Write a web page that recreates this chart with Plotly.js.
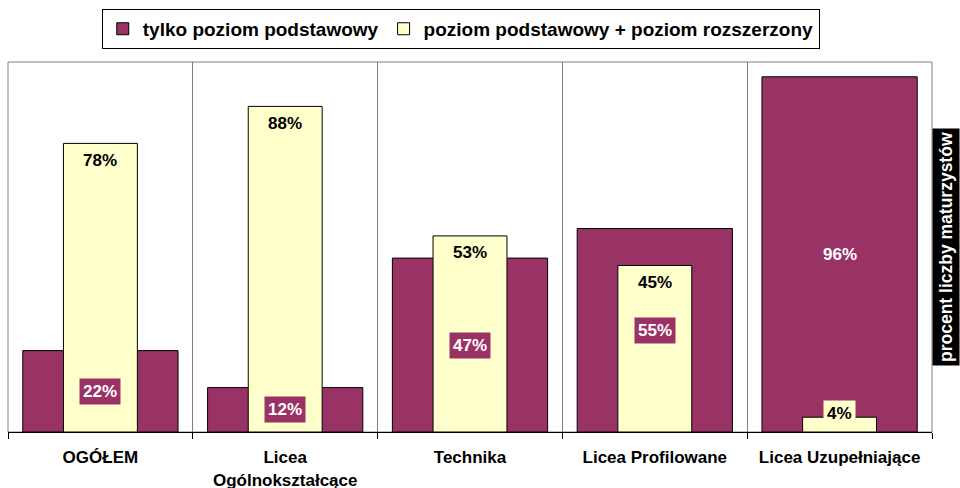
<!DOCTYPE html>
<html>
<head>
<meta charset="utf-8">
<script src="https://cdn.plot.ly/plotly-3.0.1.min.js"></script>
<style>html,body{margin:0;padding:0;background:#fff;}#chart{width:960px;height:488px;}</style>
</head>
<body>
<div id="chart"></div>
<script>
const categories = ["OGÓŁEM", "Licea<br>Ogólnokształcące", "Technika", "Licea Profilowane", "Licea Uzupełniające"];
const seriesNames = ["tylko poziom podstawowy", "poziom podstawowy + poziom rozszerzony"];
const basicOnly = [22, 12, 47, 55, 96];
const basicPlusExtended = [78, 88, 53, 45, 4];
const yTitle = "procent liczby maturzystów";

const FONT = "Liberation Sans, Arial, sans-serif";
const MAROON = "#993366";
const YELLOW = "#FFFFCC";

const traces = [
  {
    type: "bar", name: seriesNames[0], x: categories, y: basicOnly,
    width: categories.map(() => 0.84),
    marker: {color: MAROON, line: {color: "#000", width: 1}},
    hoverinfo: "none"
  },
  {
    type: "bar", name: seriesNames[1], x: categories, y: basicPlusExtended,
    width: categories.map(() => 0.40),
    marker: {color: YELLOW, line: {color: "#000", width: 1}},
    hoverinfo: "none"
  }
];

const annotations = [];
categories.forEach((c, i) => {
  annotations.push({
    x: c, y: basicOnly[i] / 2, xref: "x", yref: "y",
    text: basicOnly[i] + "%", showarrow: false,
    font: {family: FONT, size: 17, color: "#fff", weight: "bold"},
    bgcolor: MAROON, borderpad: 3, yanchor: "middle"
  });
  annotations.push({
    x: c, y: Math.max(basicPlusExtended[i] - 4.6, 5.1), xref: "x", yref: "y",
    text: basicPlusExtended[i] + "%", showarrow: false,
    font: {family: FONT, size: 17, color: "#000", weight: "bold"},
    bgcolor: YELLOW, borderpad: 3, yanchor: "middle"
  });
});
annotations.push({
  xref: "paper", yref: "paper", x: 1, y: 0.5, xanchor: "left", yanchor: "middle",
  xshift: 0, yshift: 0,
  text: yTitle, textangle: -90, showarrow: false,
  font: {family: FONT, size: 17.5, color: "#fff", weight: "bold"},
  bgcolor: "#000", borderpad: 3
});

const layout = {
  width: 960, height: 488,
  margin: {l: 8, r: 28, t: 62, b: 56},
  paper_bgcolor: "#fff", plot_bgcolor: "#fff",
  barmode: "overlay",
  showlegend: true,
  legend: {
    orientation: "h", x: 0.49, xanchor: "center", y: 1.1435, yanchor: "top",
    bordercolor: "#000", borderwidth: 1, bgcolor: "#fff",
    font: {family: FONT, size: 19, color: "#000", weight: "bold"},
    itemwidth: 30, tracegroupgap: 0
  },
  xaxis: {
    type: "category", tickson: "boundaries", ticks: "outside", ticklen: 6,
    tickcolor: "#000", showgrid: true, gridcolor: "#808080", gridwidth: 1,
    showline: true, linecolor: "#000", linewidth: 1,
    ticklabelstandoff: 10,
    tickfont: {family: FONT, size: 17, color: "#000", weight: "bold"},
    fixedrange: true
  },
  yaxis: {
    range: [0, 100], showticklabels: false, ticks: "", showgrid: false,
    zeroline: false, showline: false, side: "right", fixedrange: true
  },
  shapes: [{
    type: "rect", xref: "paper", yref: "paper", x0: 0, x1: 1, y0: 0, y1: 1,
    line: {color: "#808080", width: 1}, layer: "below"
  }],
  annotations: annotations
};

Plotly.newPlot("chart", traces, layout, {displayModeBar: false, staticPlot: true});
</script>
</body>
</html>
